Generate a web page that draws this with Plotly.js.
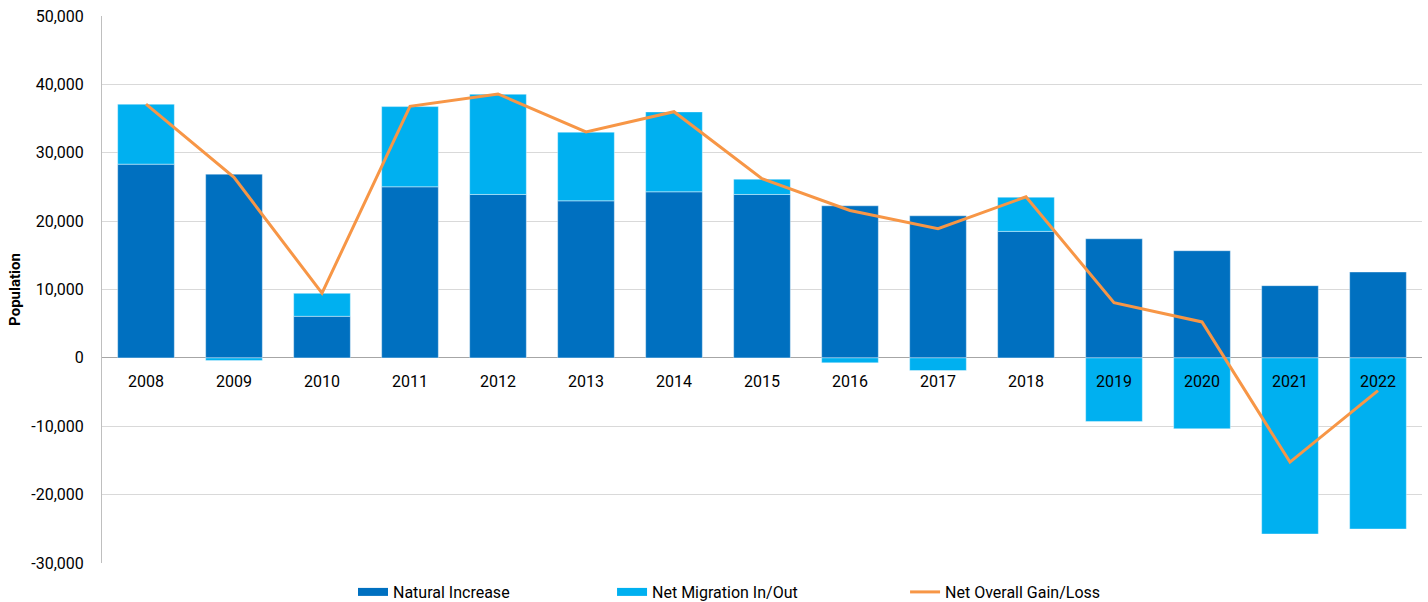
<!DOCTYPE html>
<html>
<head>
<meta charset="utf-8">
<script src="https://cdn.plot.ly/plotly-3.0.1.min.js"></script>
<style>html,body{margin:0;padding:0;background:#fff;}#chart{width:1428px;height:602px;}</style>
</head>
<body>
<div id="chart"></div>
<script>
const years = ['2008','2009','2010','2011','2012','2013','2014','2015','2016','2017','2018','2019','2020','2021','2022'];
const naturalIncrease = [28330, 26870, 6080, 25020, 23900, 22970, 24290, 23900, 22240, 20780, 18500, 17420, 15670, 10560, 12560];
const netMigration = [8770, -400, 3360, 11730, 14660, 10040, 11680, 2240, -730, -1850, 5000, -9300, -10370, -25760, -25030];
const netOverall = [37100, 26400, 9460, 36800, 38600, 33050, 36000, 26200, 21550, 18900, 23550, 8080, 5260, -15240, -4780];
const yTickValues = [-30000, -20000, -10000, 0, 10000, 20000, 30000, 40000, 50000];
const yTickLabels = ['-30,000', '-20,000', '-10,000', '0', '10,000', '20,000', '30,000', '40,000', '50,000'];
const seriesNames = ['Natural Increase', 'Net Migration In/Out', 'Net Overall Gain/Loss'];

const C_DARK = '#0070C0', C_LIGHT = '#00B0F0', C_ORANGE = '#F79646';
const FONT = 'Roboto, "Liberation Sans", sans-serif';

const traces = [
  {type: 'bar', x: years, y: naturalIncrease, name: seriesNames[0], marker: {color: C_DARK, line: {color: 'rgba(255,255,255,0.5)', width: 0.8}}, showlegend: false, legendgroup: 'a', hoverinfo: 'x+y+name'},
  {type: 'bar', x: years, y: netMigration, name: seriesNames[1], marker: {color: C_LIGHT, line: {color: 'rgba(255,255,255,0.5)', width: 0.8}}, showlegend: false, legendgroup: 'b', hoverinfo: 'x+y+name'},
  {type: 'scatter', mode: 'lines', x: years, y: netOverall, name: seriesNames[2], line: {color: C_ORANGE, width: 3}, legend: 'legend3', legendgroup: 'c'},
  // legend-only entries for the bar series (wide flat swatches)
  {type: 'scatter', mode: 'lines', x: [null], y: [null], name: seriesNames[0], line: {color: C_DARK, width: 8}, legend: 'legend', legendgroup: 'a', hoverinfo: 'skip'},
  {type: 'scatter', mode: 'lines', x: [null], y: [null], name: seriesNames[1], line: {color: C_LIGHT, width: 8}, legend: 'legend2', legendgroup: 'b', hoverinfo: 'skip'}
];

const legendBase = {orientation: 'h', xref: 'container', yref: 'container', yanchor: 'middle', xanchor: 'left', y: 0.0166,
  bgcolor: 'rgba(0,0,0,0)', borderwidth: 0, font: {family: FONT, size: 16, color: '#000'}, itemclick: false, itemdoubleclick: false};

const layout = {
  width: 1428, height: 602,
  margin: {l: 102, r: 6, t: 16, b: 39, pad: 0, autoexpand: false},
  paper_bgcolor: '#fff', plot_bgcolor: '#fff',
  barmode: 'relative', bargap: 0.356,
  font: {family: FONT, size: 16, color: '#000'},
  xaxis: {type: 'category', anchor: 'free', position: 0.375, showline: false, showgrid: false, zeroline: false,
          ticks: '', ticklabelstandoff: 12, tickfont: {family: FONT, size: 16, color: '#000'}, layer: 'above traces', fixedrange: true},
  yaxis: {range: [-30000, 50000], tickvals: yTickValues, ticktext: yTickLabels, showgrid: true, gridcolor: '#D9D9D9', gridwidth: 1,
          zeroline: true, zerolinecolor: '#A6A6A6', zerolinewidth: 1, showline: true, linecolor: '#BFBFBF', linewidth: 1,
          ticks: '', ticklabelstandoff: 14, tickfont: {family: FONT, size: 16, color: '#000'}, automargin: true,
          title: {text: 'Population', standoff: 7, font: {family: FONT, size: 15, color: '#000', weight: 'bold'}}, fixedrange: true},
  legend: Object.assign({}, legendBase, {x: 0.2472}),
  legend2: Object.assign({}, legendBase, {x: 0.4286}),
  legend3: Object.assign({}, legendBase, {x: 0.6338}),
  showlegend: true
};

Plotly.newPlot('chart', traces, layout, {displayModeBar: false, responsive: false});
</script>
</body>
</html>
